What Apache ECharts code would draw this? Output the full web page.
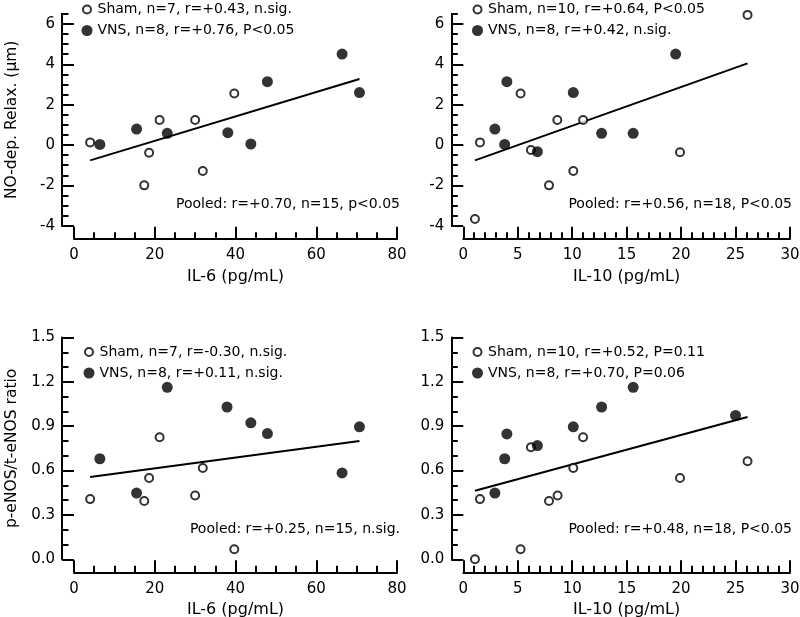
<!DOCTYPE html>
<html>
<head>
<meta charset="utf-8">
<script src="https://cdn.jsdelivr.net/npm/echarts@6/dist/echarts.min.js"></script>
<style>
html,body{margin:0;padding:0;background:#fff;}
#chart{width:800px;height:617px;}
</style>
</head>
<body>
<div id="chart"></div>
<script>
// ---------- DATA ----------
// Top-left: NO-dep. Relax vs IL-6
const tlSham = [[4.0,0.13],[21.2,1.24],[18.6,-0.38],[17.4,-2.0],[30.0,1.24],[31.9,-1.29],[39.7,2.55]];
const tlVns  = [[6.4,0.03],[15.5,0.79],[23.1,0.58],[38.1,0.61],[43.8,0.05],[47.9,3.14],[66.4,4.51],[70.7,2.6]];
const tlFit  = [[4.0,-0.76],[70.7,3.27]];
// Top-right: NO-dep. Relax vs IL-10
const trSham = [[1.07,-3.67],[1.53,0.13],[5.26,2.55],[6.21,-0.25],[8.63,1.24],[7.87,-2.0],[10.1,-1.29],[11.0,1.24],[19.9,-0.36],[26.1,6.45]];
const trVns  = [[2.9,0.79],[3.8,0.03],[4.0,3.14],[6.8,-0.33],[10.1,2.6],[12.7,0.58],[15.6,0.58],[19.5,4.51]];
const trFit  = [[1.07,-0.76],[26.1,4.05]];
// Bottom-left: p-eNOS/t-eNOS vs IL-6
const blSham = [[4.0,0.407],[17.4,0.394],[18.6,0.55],[21.2,0.826],[30.0,0.432],[31.9,0.618],[39.7,0.068]];
const blVns  = [[6.4,0.68],[15.5,0.448],[23.1,1.163],[37.9,1.03],[43.8,0.923],[47.9,0.85],[66.4,0.584],[70.7,0.896]];
const blFit  = [[4.0,0.557],[70.7,0.80]];
// Bottom-right: p-eNOS/t-eNOS vs IL-10
const brSham = [[1.07,0.0],[1.53,0.407],[5.26,0.068],[6.21,0.758],[7.87,0.394],[8.66,0.432],[10.1,0.618],[11.0,0.826],[19.9,0.55],[26.1,0.663]];
const brVns  = [[2.9,0.448],[3.8,0.68],[4.0,0.848],[6.8,0.769],[10.1,0.896],[12.7,1.03],[15.6,1.163],[25.0,0.973]];
const brFit  = [[1.07,0.464],[26.1,0.962]];

const legendTL = ['Sham, n=7, r=+0.43, n.sig.', 'VNS, n=8, r=+0.76, P<0.05'];
const legendTR = ['Sham, n=10, r=+0.64, P<0.05', 'VNS, n=8, r=+0.42, n.sig.'];
const legendBL = ['Sham, n=7, r=-0.30, n.sig.', 'VNS, n=8, r=+0.11, n.sig.'];
const legendBR = ['Sham, n=10, r=+0.52, P=0.11', 'VNS, n=8, r=+0.70, P=0.06'];
const pooledTexts = ['Pooled: r=+0.70, n=15, p<0.05', 'Pooled: r=+0.56, n=18, P<0.05',
                     'Pooled: r=+0.25, n=15, n.sig.', 'Pooled: r=+0.48, n=18, P<0.05'];
const xNames = ['IL-6 (pg/mL)', 'IL-10 (pg/mL)'];
const yNames = ['NO-dep. Relax. (\u03bcm)', 'p-eNOS/t-eNOS ratio'];
const topMajorTicks = [-4, -2, 0, 2, 4, 6];

// ---------- STYLE ----------
const FONT = 'DejaVu Sans';
const FS = 14;       // legend / annotation text
const FS_TICK = 15;  // tick labels
const FS_XNAME = 16;
const FS_YNAME = 15.5;
const BLACK = '#000';
const lineW = 2;

function xAxisDef(gridIndex, max, interval, minorSplit, name) {
  return {
    type: 'value', gridIndex, min: 0, max, interval, offset: 13,
    name, nameLocation: 'middle', nameGap: 30,
    nameTextStyle: {fontFamily: FONT, fontSize: FS_XNAME, color: BLACK},
    axisLine: {show: true, onZero: false, lineStyle: {color: BLACK, width: lineW}},
    axisTick: {show: true, inside: true, length: 12, lineStyle: {color: BLACK, width: lineW}},
    minorTick: {show: true, splitNumber: minorSplit, length: 6.5, lineStyle: {color: BLACK, width: lineW}},
    axisLabel: {show: true, margin: 9, fontFamily: FONT, fontSize: FS_TICK, color: BLACK},
    splitLine: {show: false}
  };
}
function yMajorTop(gridIndex, name) {
  return {
    type: 'value', gridIndex, min: -4, max: 6.5, interval: 2, offset: 12, position: 'left',
    name, nameLocation: 'middle', nameGap: 42,
    nameTextStyle: {fontFamily: FONT, fontSize: FS_YNAME, color: BLACK},
    axisLine: {show: true, onZero: false, lineStyle: {color: BLACK, width: lineW}},
    axisTick: {show: true, inside: true, length: 12, customValues: topMajorTicks, lineStyle: {color: BLACK, width: lineW}},
    axisLabel: {show: true, margin: 7, fontFamily: FONT, fontSize: FS_TICK, color: BLACK, customValues: topMajorTicks,
      formatter: v => (Math.abs(v % 2) < 1e-9 ? String(v) : '')},
    splitLine: {show: false}
  };
}
function yMinorTop(gridIndex) {
  return {
    type: 'value', gridIndex, min: -4, max: 6.5, interval: 0.5, offset: 12, position: 'left',
    axisLine: {show: true, onZero: false, lineStyle: {color: BLACK, width: lineW}},
    axisTick: {show: true, inside: true, length: 6.5, lineStyle: {color: BLACK, width: lineW}},
    axisLabel: {show: false},
    splitLine: {show: false}
  };
}
function yBottom(gridIndex, name) {
  return {
    type: 'value', gridIndex, min: 0, max: 1.5, interval: 0.3, offset: 12, position: 'left',
    name, nameLocation: 'middle', nameGap: 42,
    nameTextStyle: {fontFamily: FONT, fontSize: FS_YNAME, color: BLACK},
    axisLine: {show: true, onZero: false, lineStyle: {color: BLACK, width: lineW}},
    axisTick: {show: true, inside: true, length: 12, lineStyle: {color: BLACK, width: lineW}},
    minorTick: {show: true, splitNumber: 3, length: 6.5, lineStyle: {color: BLACK, width: lineW}},
    axisLabel: {show: true, margin: 7, fontFamily: FONT, fontSize: FS_TICK, color: BLACK,
      formatter: v => v.toFixed(1)},
    splitLine: {show: false}
  };
}
function shamSeries(name, xi, yi, data) {
  return {type: 'scatter', name, xAxisIndex: xi, yAxisIndex: yi, data, symbol: 'circle', symbolSize: 8, z: 5,
    itemStyle: {color: '#fff', borderColor: BLACK, borderWidth: 2}};
}
function vnsSeries(name, xi, yi, data) {
  return {type: 'scatter', name, xAxisIndex: xi, yAxisIndex: yi, data, symbol: 'circle', symbolSize: 11, z: 5,
    itemStyle: {color: BLACK}};
}
function fitSeries(xi, yi, data) {
  return {type: 'line', xAxisIndex: xi, yAxisIndex: yi, data, symbol: 'none', silent: true, z: 3,
    lineStyle: {color: BLACK, width: 2}};
}
function legendDef(left, top, names) {
  return {
    data: [
      {name: names[0], icon: 'path://M0,0 m-8,0 a8,8 0 1,0 16,0 a8,8 0 1,0 -16,0 M-11,-11 L-11,-11 M11,11 L11,11'},
      {name: names[1], icon: 'circle'}
    ],
    orient: 'vertical', left, top, padding: 0, itemGap: 7, itemWidth: 11, itemHeight: 11,
    selectedMode: false, textStyle: {fontFamily: FONT, fontSize: FS, color: BLACK}
  };
}
function gridDef(left, top, width, height) {
  return {left, top, width, height, containLabel: false, outerBoundsMode: 'none'};
}

const option = {
  animation: false,
  backgroundColor: '#fff',
  grid: [
    gridDef(74, 13.9, 323, 211.8),
    gridDef(463.3, 13.9, 326.7, 211.8),
    gridDef(74, 337.5, 323, 221.8),
    gridDef(463.3, 337.5, 326.7, 221.8)
  ],
  xAxis: [
    xAxisDef(0, 80, 20, 4, xNames[0]),
    xAxisDef(1, 30, 5, 5, xNames[1]),
    xAxisDef(2, 80, 20, 4, xNames[0]),
    xAxisDef(3, 30, 5, 5, xNames[1])
  ],
  yAxis: [
    yMajorTop(0, yNames[0]),
    yMinorTop(0),
    yMajorTop(1, ''),
    yMinorTop(1),
    yBottom(2, yNames[1]),
    yBottom(3, '')
  ],
  legend: [
    legendDef(80.5, 2.5, legendTL),
    legendDef(471, 2.5, legendTR),
    legendDef(82.5, 345, legendBL),
    legendDef(471, 345, legendBR)
  ],
  series: [
    fitSeries(0, 0, tlFit), shamSeries(legendTL[0], 0, 0, tlSham), vnsSeries(legendTL[1], 0, 0, tlVns),
    fitSeries(1, 2, trFit), shamSeries(legendTR[0], 1, 2, trSham), vnsSeries(legendTR[1], 1, 2, trVns),
    fitSeries(2, 4, blFit), shamSeries(legendBL[0], 2, 4, blSham), vnsSeries(legendBL[1], 2, 4, blVns),
    fitSeries(3, 5, brFit), shamSeries(legendBR[0], 3, 5, brSham), vnsSeries(legendBR[1], 3, 5, brVns)
  ],
  graphic: [
    {type: 'text', x: 400, y: 204, style: {text: pooledTexts[0], font: FS + 'px "' + FONT + '"', fill: BLACK, align: 'right', verticalAlign: 'middle'}},
    {type: 'text', x: 792, y: 204, style: {text: pooledTexts[1], font: FS + 'px "' + FONT + '"', fill: BLACK, align: 'right', verticalAlign: 'middle'}},
    {type: 'text', x: 400, y: 529, style: {text: pooledTexts[2], font: FS + 'px "' + FONT + '"', fill: BLACK, align: 'right', verticalAlign: 'middle'}},
    {type: 'text', x: 792, y: 529, style: {text: pooledTexts[3], font: FS + 'px "' + FONT + '"', fill: BLACK, align: 'right', verticalAlign: 'middle'}}
  ]
};

const chart = echarts.init(document.getElementById('chart'), null, {renderer: 'canvas'});
chart.setOption(option);
</script>
</body>
</html>
